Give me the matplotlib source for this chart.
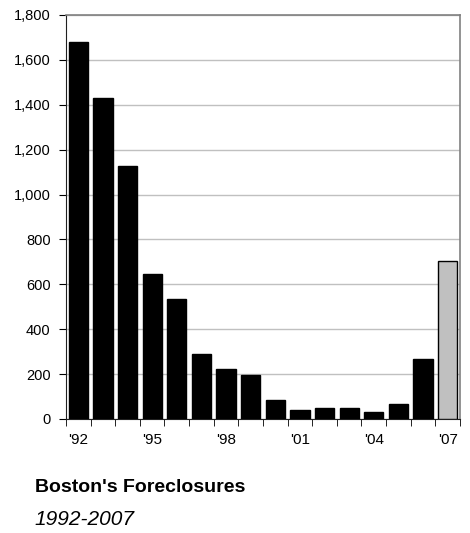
import numpy as np
import matplotlib.pyplot as plt

plt.rcParams['font.family'] = ['Liberation Sans', 'DejaVu Sans']

# Data
years = list(range(1992, 2008))
foreclosures = [1680, 1430, 1125, 647, 535, 291, 221, 195, 83, 39, 48, 48, 30, 67, 266, 705]
label_years = ["'92", "'95", "'98", "'01", "'04", "'07"]

x = np.arange(len(years))
colors = ['black'] * (len(years) - 1) + ['#c0c0c0']

fig = plt.figure(figsize=(4.7, 5.33), dpi=100)
ax = fig.add_axes([0.1404, 0.2139, 0.8383, 0.758])

ax.bar(x, foreclosures, width=0.78, color=colors, edgecolor='black', linewidth=1, zorder=3)

ax.set_xlim(-0.5, len(years) - 0.5)
ax.set_ylim(0, 1800)
ax.set_yticks(np.arange(0, 1801, 200))
ax.set_yticklabels(['{:,}'.format(v) for v in range(0, 1801, 200)], fontsize=10.5)
ax.yaxis.grid(True, color='#c0c0c0', linewidth=1, zorder=0)

ax.set_xticks(x[::3])
ax.set_xticklabels(label_years, fontsize=11)
ax.set_xticks(np.arange(-0.5, len(years), 1), minor=True)
ax.tick_params(axis='x', which='major', length=0, pad=10)
ax.tick_params(axis='x', which='minor', length=5, direction='out', color='black')
ax.tick_params(axis='y', length=5, direction='out', color='black', pad=6)

for side in ['top', 'right']:
    ax.spines[side].set_color('#808080')
    ax.spines[side].set_linewidth(1.2)
ax.spines['left'].set_color('#202020')
ax.spines['bottom'].set_color('#202020')

fig.text(0.074, 0.0863, "Boston's Foreclosures", fontsize=14, fontweight='bold', va='center')
fig.text(0.074, 0.0244, "1992-2007", fontsize=15, style='italic', va='center')

plt.savefig('out.png', dpi=100)
